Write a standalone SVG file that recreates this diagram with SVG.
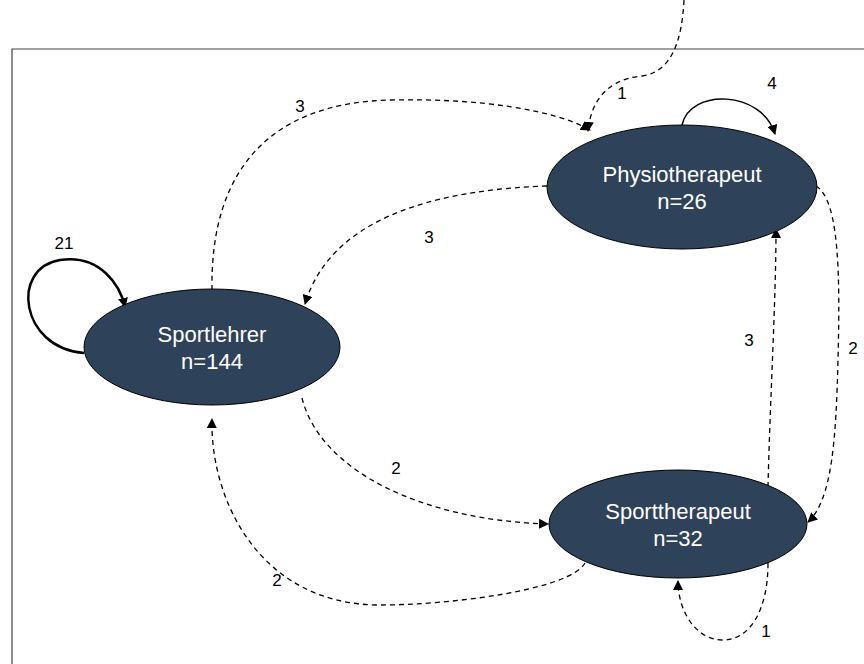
<svg xmlns="http://www.w3.org/2000/svg" width="864" height="664" viewBox="0 0 864 664">
<defs>
<marker id="ah" viewBox="0 0 10 10" refX="9" refY="5" markerWidth="10" markerHeight="10" markerUnits="userSpaceOnUse" orient="auto">
<path d="M0,0 L10,5 L0,10 z" fill="#000"/>
</marker>
<style>
.node{fill:#2e4259;stroke:#000;stroke-width:1}
.nt{font-family:"Liberation Sans",Arial,sans-serif;font-size:22px;fill:#fff;text-anchor:middle}
.lbl{font-family:"Liberation Sans",Arial,sans-serif;font-size:17px;fill:#000;text-anchor:middle}
.dash{fill:none;stroke:#000;stroke-width:1.3;stroke-dasharray:5,4;marker-end:url(#ah)}
.solid{fill:none;stroke:#000;stroke-width:1.5;marker-end:url(#ah)}
.thick{fill:none;stroke:#000;stroke-width:2.5;marker-end:url(#ah)}
</style>
</defs>
<rect width="864" height="664" fill="#fff"/>
<path d="M12,680 L12,49 L880,49" fill="none" stroke="#444" stroke-width="1.2"/>
<g id="edges">
<path class="dash" d="M684,0 C 682,40 672,72 642,76 C 600,80 590,110 588,131"/>
<path class="solid" d="M682,125 C 690,88 762,90 775,134"/>
<path class="dash" d="M212,290 C 210,170 270,103 390,100 C 480,98 555,110 590,130"/>
<path class="dash" d="M547,186 C 430,190 330,220 305,304"/>
<path class="thick" d="M84,353 C 20,348 10,268 60,260 C 100,254 120,285 125,307"/>
<path class="dash" d="M816,186 C 840,200 840,280 838,360 C 836,440 832,500 808,522"/>
<path class="dash" d="M768,487 C 770,400 776,300 776,229"/>
<path class="dash" d="M302,398 C 320,470 420,520 548,524"/>
<path class="dash" d="M585,563 C 570,590 450,605 380,605 C 260,605 210,500 212,419"/>
<path class="dash" d="M768,563 C 768,610 750,640 723,640 C 695,640 678,610 678,581"/>
</g>
<g id="labels">
<text class="lbl" x="622" y="99">1</text>
<text class="lbl" x="772" y="89">4</text>
<text class="lbl" x="300" y="112">3</text>
<text class="lbl" x="429" y="243">3</text>
<text class="lbl" x="64" y="249">21</text>
<text class="lbl" x="853" y="354">2</text>
<text class="lbl" x="749" y="346">3</text>
<text class="lbl" x="396" y="474">2</text>
<text class="lbl" x="277" y="586">2</text>
<text class="lbl" x="766" y="637">1</text>
</g>
<g id="physio">
<ellipse class="node" cx="682" cy="187" rx="135" ry="62"/>
<text class="nt" x="682" y="182">Physiotherapeut</text>
<text class="nt" x="682" y="209">n=26</text>
</g>
<g id="sportlehrer">
<ellipse class="node" cx="212" cy="347" rx="128" ry="58"/>
<text class="nt" x="212" y="342">Sportlehrer</text>
<text class="nt" x="212" y="369">n=144</text>
</g>
<g id="sporttherapeut">
<ellipse class="node" cx="678" cy="524" rx="129" ry="54"/>
<text class="nt" x="678" y="519">Sporttherapeut</text>
<text class="nt" x="678" y="546">n=32</text>
</g>
</svg>
